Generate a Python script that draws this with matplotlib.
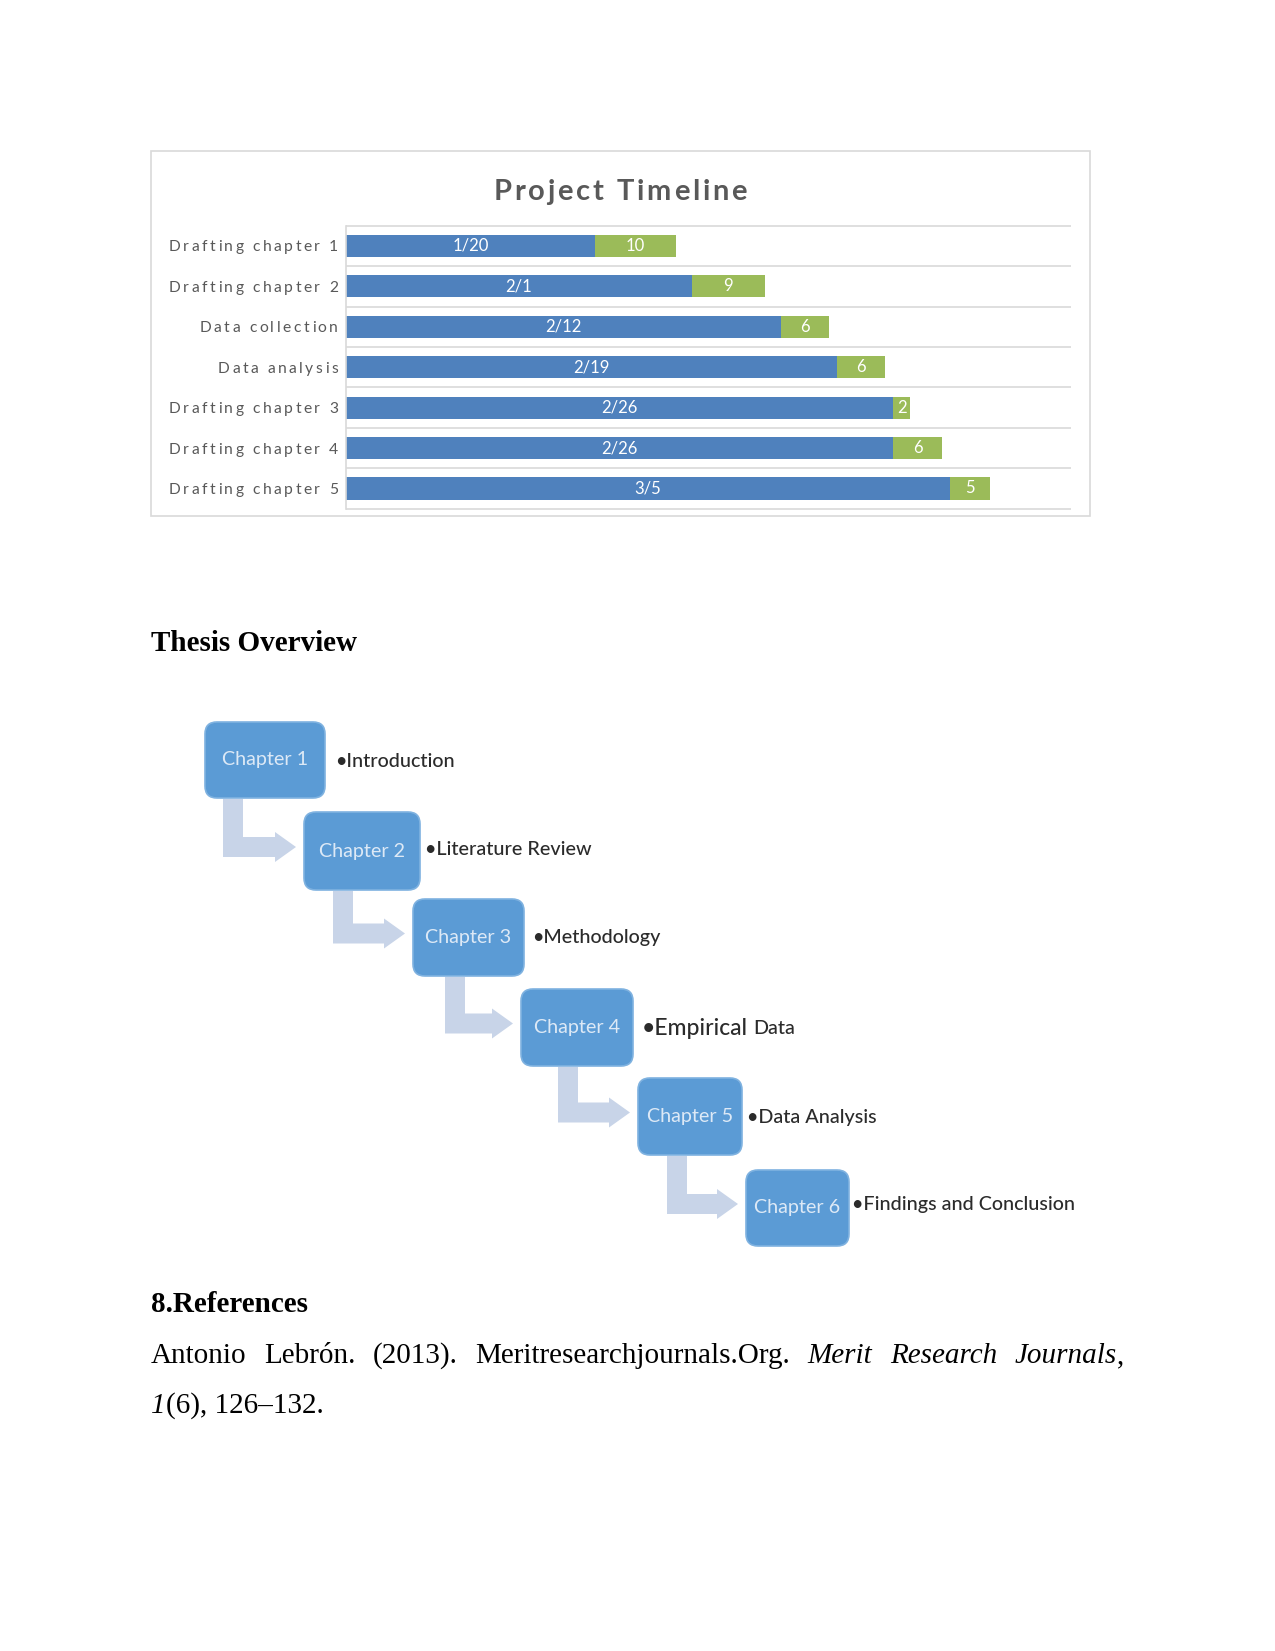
import datetime as dt

import matplotlib
matplotlib.use("Agg")
import matplotlib.pyplot as plt
import matplotlib.dates as mdates
from matplotlib.font_manager import FontProperties
from matplotlib.patches import FancyBboxPatch, Rectangle, Polygon

W, H, DPI = 1275, 1651, 150
SANS = "Lato"
SERIF = "Liberation Serif"

# --- Gantt data -------------------------------------------------------------
tasks = ["Drafting chapter 1", "Drafting chapter 2", "Data collection",
         "Data analysis", "Drafting chapter 3", "Drafting chapter 4",
         "Drafting chapter 5"]
start_dates = ["2018-01-20", "2018-02-01", "2018-02-12", "2018-02-19",
               "2018-02-26", "2018-02-26", "2018-03-05"]
durations = [10, 9, 6, 6, 2, 6, 5]
axis_dates = ["2017-12-20", "2018-03-20"]

# --- thesis overview --------------------------------------------------------
chapters = ["Chapter 1", "Chapter 2", "Chapter 3", "Chapter 4", "Chapter 5",
            "Chapter 6"]
topics = ["Introduction", "Literature Review", "Methodology", "Empirical Data",
          "Data Analysis", "Findings and Conclusion"]

# --- reference (text, italic) -----------------------------------------------
ref_line1 = [[("Antonio", False)], [("Lebrón.", False)], [("(2013).", False)],
             [("Meritresearchjournals.Org.", False)], [("Merit", True)],
             [("Research", True)], [("Journals", True), (",", False)]]
ref_line2 = [("1", True), ("(6), 126–132.", False)]

# layout (page pixels, y downwards)
CHART_BOX = (150.7, 150.7, 1089.5, 516.0)
PLOT = (345.7, 225.7, 1070.7, 508.7)
BOXES = [(205, 722, 325, 798), (304, 812, 420, 890), (413, 899, 524, 976),
         (521, 989, 633, 1066), (638, 1078, 742, 1155), (746, 1170, 849, 1246)]
STEM_OFFSET = [18, 29, 32, 37, 29]
TOPIC_GAP = [10, 5, 8, 9, 5, 3]
TOPIC_DY = [0, -3, -1, -1, -1, -5]

BLUE = "#4f81bd"
GREEN = "#9bbb59"
GREY = "#595959"
INK = "#2b2b2b"

fig = plt.figure(figsize=(W / DPI, H / DPI), dpi=DPI)
page = fig.add_axes([0, 0, 1, 1])
page.set_xlim(0, W)
page.set_ylim(H, 0)
page.axis("off")
renderer = fig.canvas.get_renderer()


def text_width(s, fp):
    return renderer.get_text_width_height_descent(s, fp, ismath=False)[0]


def cap_height(fp):
    return renderer.get_text_width_height_descent("H", fp, ismath=False)[1]


def tracked(x, yc, s, fp, track, ha="left", color=GREY):
    """Letter-spaced text, yc is the vertical centre of the capitals."""
    bar = text_width("|", fp)
    offs = [text_width(s[:i] + "|", fp) - bar for i in range(len(s))]
    total = text_width(s + "|", fp) - bar + track * (len(s) - 1)
    x0 = {"left": x, "center": x - total / 2, "right": x - total}[ha]
    base = yc + cap_height(fp) / 2
    for i, ch in enumerate(s):
        if ch != " ":
            page.text(x0 + offs[i] + i * track, base, ch, fontproperties=fp,
                      color=color, ha="left", va="baseline")


def to_page(ax, x, y):
    disp = ax.transData.transform((x, y))
    return page.transData.inverted().transform(disp)


# ---------------------------------------------------------------- Gantt chart
page.add_patch(Rectangle((CHART_BOX[0], CHART_BOX[1]),
                         CHART_BOX[2] - CHART_BOX[0], CHART_BOX[3] - CHART_BOX[1],
                         fill=False, ec="#d9d9d9", lw=0.8))
tracked((CHART_BOX[0] + CHART_BOX[2]) / 2, 189.5, "Project Timeline",
        FontProperties(family=SANS, weight="bold", size=14), 2.8, ha="center")

ax = fig.add_axes([PLOT[0] / W, 1 - PLOT[3] / H,
                   (PLOT[2] - PLOT[0]) / W, (PLOT[3] - PLOT[1]) / H])
dates = [dt.datetime.strptime(d, "%Y-%m-%d") for d in start_dates]
starts = mdates.date2num(dates)
xmin, xmax = mdates.date2num([dt.datetime.strptime(d, "%Y-%m-%d") for d in axis_dates])
y = list(range(len(tasks)))

ax.barh(y, starts, height=0.55, color=BLUE, zorder=2)
ax.barh(y, durations, left=starts, height=0.55, color=GREEN, zorder=2)
ax.set_xlim(xmin, xmax)
ax.set_ylim(len(tasks) - 0.5, -0.5)
ax.hlines([i - 0.5 for i in range(len(tasks) + 1)], xmin, xmax,
          color="#d9d9d9", lw=0.8, zorder=1, clip_on=False)
for s in ("top", "right", "bottom"):
    ax.spines[s].set_visible(False)
ax.spines["left"].set_color("#d9d9d9")
ax.spines["left"].set_linewidth(0.8)
ax.set_xticks([])
ax.set_yticks([])
ax.patch.set_alpha(0)

fp_bar = FontProperties(family=SANS, size=8)
for i, (d, s, n) in enumerate(zip(dates, starts, durations)):
    ax.text((xmin + s) / 2, i, f"{d.month}/{d.day}", fontproperties=fp_bar,
            color="white", ha="center", va="center", zorder=3)
    ax.text(s + n / 2, i, str(n), fontproperties=fp_bar, color="white",
            ha="center", va="center", zorder=3)

fp_cat = FontProperties(family=SANS, size=7.5)
for i, t in enumerate(tasks):
    _, yc = to_page(ax, xmin, i)
    tracked(338, yc, t, fp_cat, 2.5, ha="right")

# ----------------------------------------------------------- thesis overview
fp_head = FontProperties(family=SERIF, weight="bold", size=14)
page.text(150.6, 651, "Thesis Overview", fontproperties=fp_head,
          ha="left", va="baseline", color="black")

fp_chap = FontProperties(family=SANS, size=9.5)
fp_topic = FontProperties(family=SANS, size=9.5, weight="medium")
fp_big = FontProperties(family=SANS, size=11, weight="medium")
for i in range(len(BOXES) - 1):
    x0, _, _, y1 = BOXES[i]
    nx0, ny0, _, ny1 = BOXES[i + 1]
    sx0 = x0 + STEM_OFFSET[i]
    sx1 = sx0 + 20
    cy = (ny0 + ny1) / 2 - 4
    tip = nx0 - 8
    hs = tip - 21
    page.add_patch(Polygon([(sx0, y1 + 1), (sx1, y1 + 1), (sx1, cy - 10),
                            (hs, cy - 10), (hs, cy - 15), (tip, cy),
                            (hs, cy + 15), (hs, cy + 10), (sx0, cy + 10)],
                           closed=True, fc="#c8d4e8", ec="none"))

for i, ((x0, y0, x1, y1), chap, topic) in enumerate(zip(BOXES, chapters, topics)):
    page.add_patch(FancyBboxPatch((x0, y0), x1 - x0, y1 - y0,
                                  boxstyle="round,pad=0,rounding_size=12",
                                  fc="#5b9bd5", ec="#7fb2e0", lw=0.8))
    page.text((x0 + x1) / 2, (y0 + y1) / 2, chap, fontproperties=fp_chap,
              color="#dde9f6", ha="center", va="center")
    tx = x1 + TOPIC_GAP[i]
    ty = (y0 + y1) / 2 + TOPIC_DY[i]
    words = topic.split(" ")
    if words[0] == "Empirical":
        page.text(tx, ty, "•" + words[0], fontproperties=fp_big,
                  color=INK, ha="left", va="center_baseline")
        tx += text_width("•" + words[0], fp_big) + 5
        page.text(tx, ty, " ".join(words[1:]), fontproperties=fp_topic,
                  color=INK, ha="left", va="center_baseline")
    else:
        page.text(tx, ty, "•" + topic, fontproperties=fp_topic,
                  color=INK, ha="left", va="center_baseline")

# ---------------------------------------------------------------- references
page.text(150.6, 1312, "8.References", fontproperties=fp_head,
          ha="left", va="baseline", color="black")

fp_body = FontProperties(family=SERIF, size=14)
fp_ital = FontProperties(family=SERIF, style="italic", size=14)


def seg_font(italic):
    return fp_ital if italic else fp_body


left, right = 150.6, 1124.5
widths = [sum(text_width(t, seg_font(it)) for t, it in word) for word in ref_line1]
gap = (right - left - sum(widths)) / (len(ref_line1) - 1)
x = left
for word in ref_line1:
    for t, it in word:
        page.text(x, 1363, t, fontproperties=seg_font(it), color="black",
                  ha="left", va="baseline")
        x += text_width(t, seg_font(it))
    x += gap

x = left
for t, it in ref_line2:
    page.text(x, 1413, t, fontproperties=seg_font(it), color="black",
              ha="left", va="baseline")
    x += text_width(t, seg_font(it)) + 1

fig.savefig("out.png", dpi=DPI)
